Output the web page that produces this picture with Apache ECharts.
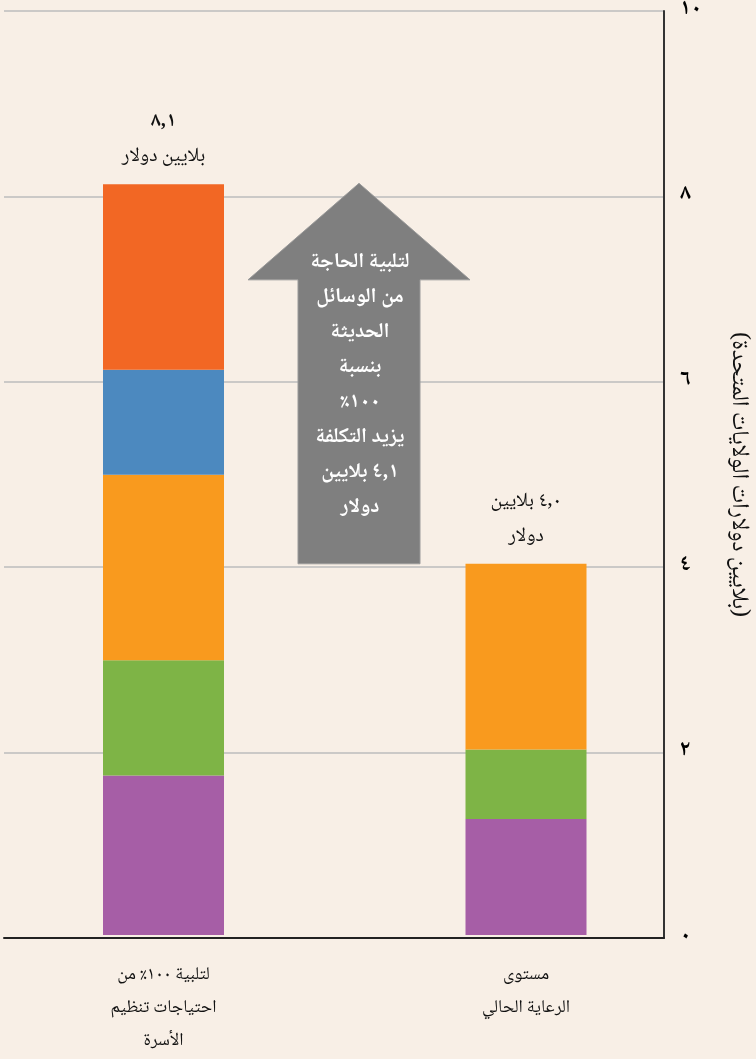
<!DOCTYPE html>
<html><head><meta charset="utf-8">
<script src="https://cdn.jsdelivr.net/npm/echarts@6/dist/echarts.min.js"></script>
<style>html,body{margin:0;padding:0;background:#f8efe6}#c{width:756px;height:1059px}</style>
</head><body><div id="c" dir="rtl"></div>
<script>
// ---- data ----
const categories = ['لتلبية ١٠٠٪ من\nاحتياجات تنظيم\nالأسرة', 'مستوى\nالرعاية الحالي'];
const purpleVals = [1.72, 1.25];
const greenVals  = [1.24, 0.75];
const orangeVals = [2.0, 2.0];
const blueVals   = [1.13, 0];
const redVals    = [2.0, 0];
const totalLabels = ['{b|٨,١}\nبلايين دولار', '٤,٠ بلايين\nدولار'];
const yAxisName = '(بلايين دولارات الولايات المتحدة)';
const arrowText = 'لتلبية الحاجة\nمن الوسائل\nالحديثة\nبنسبة\n١٠٠٪\nيزيد التكلفة\n٤,١ بلايين\nدولار';
const arrowFrom = 4.0, arrowTo = 8.1, arrowHeadBase = 7.06;

const FONT = "'Noto Naskh Arabic','Amiri','DejaVu Serif','DejaVu Sans',serif";
const toArabicDigits = s => String(s).replace(/[0-9]/g, d => '٠١٢٣٤٥٦٧٨٩'[+d]);

const chart = echarts.init(document.getElementById('c'), null, {renderer: 'canvas'});
const barBase = {type: 'bar', stack: 'total', xAxisIndex: 1, yAxisIndex: 1, barWidth: 121,
  emphasis: {disabled: true}};
chart.setOption({
  backgroundColor: '#f8efe6',
  animation: false,
  textStyle: {fontFamily: FONT},
  grid: [
    {left: 4, right: 83, top: 7, bottom: 121},
    {left: 163.5, right: 230, top: 7, bottom: 121}
  ],
  xAxis: [
    {gridIndex: 0, type: 'category', data: [''], axisLine: {lineStyle: {color: '#222', width: 2}},
      axisTick: {show: false}, axisLabel: {show: false}},
    {gridIndex: 1, type: 'category', boundaryGap: false, data: categories,
      axisLine: {show: false}, axisTick: {show: false},
      axisLabel: {color: '#111', fontSize: 18, lineHeight: 33, margin: 25, fontFamily: FONT}}
  ],
  yAxis: [
    {gridIndex: 0, type: 'value', position: 'right', min: 0, max: 10, interval: 2,
      axisLine: {show: true, lineStyle: {color: '#333', width: 2}},
      axisTick: {show: false},
      splitLine: {lineStyle: {color: '#bdbdbd', width: 1.5}},
      axisLabel: {color: '#000', fontSize: 22, fontWeight: 'bold', margin: 16, fontFamily: FONT,
        padding: [10, 0, 0, 0], formatter: v => toArabicDigits(v)},
      name: yAxisName, nameLocation: 'middle', nameRotate: -90, nameGap: 60,
      nameTextStyle: {color: '#111', fontSize: 24, fontFamily: FONT}},
    {gridIndex: 1, type: 'value', min: 0, max: 10, show: false}
  ],
  series: [
    Object.assign({}, barBase, {name: 'p', data: purpleVals, itemStyle: {color: '#a65ea6'}}),
    Object.assign({}, barBase, {name: 'g', data: greenVals, itemStyle: {color: '#7eb446'}}),
    Object.assign({}, barBase, {name: 'o', data: orangeVals, itemStyle: {color: '#f99a1e'}}),
    Object.assign({}, barBase, {name: 'b', data: blueVals, itemStyle: {color: '#4c89bf'}}),
    Object.assign({}, barBase, {name: 'r', data: redVals, itemStyle: {color: '#f26724'}}),
    Object.assign({}, barBase, {name: 'total', data: [0, 0], itemStyle: {color: 'transparent'},
      label: {show: true, position: 'top', distance: 8, color: '#111', fontSize: 20,
        lineHeight: 35, fontFamily: FONT, formatter: p => totalLabels[p.dataIndex],
        rich: {b: {fontSize: 20, fontWeight: 'bold', lineHeight: 35, fontFamily: FONT}}}})
  ]
});

function drawArrow() {
  const yTip = chart.convertToPixel({yAxisIndex: 1}, arrowTo);
  const yBase = chart.convertToPixel({yAxisIndex: 1}, arrowHeadBase);
  const yBot = chart.convertToPixel({yAxisIndex: 1}, arrowFrom);
  const cx = 359, hw = 111, sw = 61;
  chart.setOption({
    graphic: [
      {type: 'polygon', z: 10, shape: {points: [
        [cx, yTip], [cx + hw, yBase], [cx + sw, yBase], [cx + sw, yBot],
        [cx - sw, yBot], [cx - sw, yBase], [cx - hw, yBase]]},
        style: {fill: '#7f7f7f', stroke: '#9a9a9a', lineWidth: 1}},
      {type: 'text', z: 11, x: cx + 1, y: 247,
        style: {text: arrowText, fill: '#fff', font: 'bold 21px ' + FONT,
          textAlign: 'center', textVerticalAlign: 'top', lineHeight: 35}}
    ]
  });
}
drawArrow();
</script></body></html>
